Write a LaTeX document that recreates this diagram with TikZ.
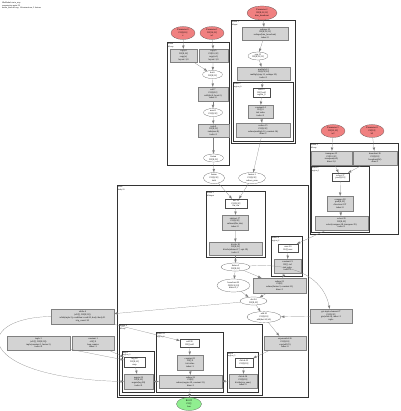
\documentclass[tikz,border=0pt]{standalone}
\usepackage{fontspec}
\setmainfont{Liberation Serif}
\usetikzlibrary{shapes.geometric}
\definecolor{paramred}{RGB}{240,128,128}
\definecolor{rootgreen}{RGB}{144,238,144}
\definecolor{opgray}{RGB}{211,211,211}
\tikzset{>=latex}
\tikzset{
  tiny/.style = {font=\fontsize{2.3}{2.8}\selectfont, align=center, inner sep=0pt},
  param/.style = {tiny, ellipse, draw=black!70, line width=0.2pt, fill=paramred},
  root/.style = {tiny, ellipse, draw=black!70, line width=0.2pt, fill=rootgreen},
  op/.style = {tiny, rectangle, draw=gray, line width=0.2pt, fill=opgray},
  val/.style = {tiny, ellipse, draw=black!70, line width=0.2pt, fill=white},
  tup/.style = {tiny, rectangle, draw=black!70, line width=0.2pt, fill=white},
  cluster/.style = {draw=black!80, line width=0.8pt},
  clabel/.style = {font=\fontsize{2.1}{2.6}\selectfont, align=left, inner sep=0.8pt, anchor=north west},
  edge/.style = {->, draw=black!50, line width=0.2pt}
}

\begin{document}
\begin{tikzpicture}[x=1pt,y=-1pt]
  \fill[white] (0,0) rectangle (400,411);
  \useasboundingbox (0,0) rectangle (400,411);
  \node[clabel] (title) at (1,1) {HloModule train\_step\\computation main.58\\fusion\_kind=kLoop, 14 instructions, 3 fusions};

  \draw[cluster] (167,42) rectangle (229,165);
  \node[clabel] (lab1) at (167,42) {fusion\\kLoop};
  \draw[cluster] (231,20) rectangle (295,143);
  \node[clabel] (lab2) at (231,20) {fusion.1\\kInput};
  \draw[cluster] (233,82) rectangle (293,141);
  \node[clabel] (lab3) at (233,82) {reduce.7\\region\_0};
  \draw[cluster] (310,143) rectangle (398,234);
  \node[clabel] (lab4) at (310,143) {fusion.2\\kLoop};
  \draw[cluster] (311,166) rectangle (369,232);
  \node[clabel] (lab5) at (311,166) {select.3\\region\_1};
  \draw[cluster] (117,185) rectangle (308,397);
  \node[clabel] (lab6) at (117,185) {while\\body.21};
  \draw[cluster] (206,191) rectangle (265,257);
  \node[clabel] (lab7) at (206,191) {fusion.3\\kOutput};
  \draw[cluster] (271,236) rectangle (302,276);
  \node[clabel] (lab8) at (271,236) {reduce.9\\region\_2};
  \draw[cluster] (119,324) rectangle (262,395);
  \node[clabel] (lab9) at (119,324) {fusion.4\\kLoop};
  \draw[cluster] (122,351) rectangle (154,392);
  \node[clabel] (lab10) at (122,351) {map.5\\region\_3};
  \draw[cluster] (156,332) rectangle (223,392);
  \node[clabel] (lab11) at (156,332) {reduce.11\\region\_4};
  \draw[cluster] (227,352) rectangle (258,392);
  \node[clabel] (lab12) at (227,352) {map.6\\region\_5};

  \node[param, minimum width=24pt, minimum height=13pt] (p1) at (183,33) {Parameter 0\\f32[8,16]\\x};
  \node[param, minimum width=24pt, minimum height=13pt] (p2) at (212,33) {Parameter 1\\f32[16,32]\\w1};
  \node[param, minimum width=30pt, minimum height=14pt] (p3) at (262,13) {Parameter 2\\f32[8,32,32]\\bias\_broadcast};
  \node[param, minimum width=24pt, minimum height=13pt] (p4) at (333,131) {Parameter 3\\f32[32,10]\\w2};
  \node[param, minimum width=24pt, minimum height=13pt] (p5) at (372,131) {Parameter 4\\f32[10]\\b2};

  \node[op, minimum width=27pt, minimum height=13pt] (a1) at (183.5,55.5) {copy.4\\f32[8,16]\\copy(x)\\layout=1,0};
  \node[op, minimum width=29pt, minimum height=13pt] (a2) at (213.5,55.5) {copy.5\\f32[16,32]\\copy(w1)\\layout=1,0};
  \node[val, minimum width=20pt, minimum height=8pt] (e1) at (212.5,74.5) {dot.6\\f32[8,32]};
  \node[op, minimum width=30pt, minimum height=14pt] (a3) at (213,94) {add.7\\f32[8,32]\\add(dot.6, bcast.2)\\index=0};
  \node[val, minimum width=19pt, minimum height=8pt] (e2) at (213,112.5) {max.8\\f32[8,32]};
  \node[op, minimum width=31pt, minimum height=13pt] (a4) at (213.5,130.5) {tanh.9\\f32[8,32]\\tanh(max.8)\\index=1};
  \node[val, minimum width=20pt, minimum height=8pt] (e3) at (213.5,158) {fusion\\f32[8,32]};

  \node[op, minimum width=46pt, minimum height=13pt] (b1) at (265,33.5) {reshape.10\\f32[8,32,32]\\reshape(bias\_broadcast)\\index=0};
  \node[val, minimum width=20pt, minimum height=8pt] (f1) at (258,56) {exp.11\\f32[8,32,32]};
  \node[op, minimum width=53pt, minimum height=13pt] (b2) at (263.5,73.5) {multiply.12\\f32[8,32,32]\\multiply(exp.11, reshape.10)\\index=1};
  \node[tup, minimum width=17pt, minimum height=9pt] (w1) at (261.5,92.5) {add.13\\f32[] add\\region\_0};
  \node[op, minimum width=25pt, minimum height=13pt] (b3) at (260.5,111.5) {constant.14\\f32[] 0\\init value\\index=2};
  \node[op, minimum width=54pt, minimum height=14pt] (b4) at (263,130) {reduce.15\\f32[8,32]\\reduce(multiply.12, constant.14)\\dims=2};

  \node[val, minimum width=21pt, minimum height=11pt] (m1) at (214,178) {fusion\\f32[8,32]\\tanh};
  \node[val, minimum width=27pt, minimum height=11pt] (m2) at (252,178) {fusion.1\\f32[8,32]\\reduce\_sum};

  \node[tup, minimum width=22pt, minimum height=9pt] (w2) at (236,203.5) {dot.16\\f32[8,32]\\lhs, rhs};
  \node[op, minimum width=26pt, minimum height=15pt] (c1) at (235,222.5) {subtract.17\\f32[8,32]\\subtract(lhs, rhs)\\index=0};
  \node[op, minimum width=53pt, minimum height=13pt] (c2) at (235.5,248.5) {divide.18\\f32[8,32]\\divide(subtract.17, sqrt.19)\\index=1};
  \node[tup, minimum width=20pt, minimum height=8pt] (w3) at (288,248) {max.20\\f32[] max};
  \node[op, minimum width=27pt, minimum height=14pt] (c3) at (287.5,266) {constant.21\\f32[] -inf\\init value\\index=3};

  \node[val, minimum width=29pt, minimum height=8pt] (e4) at (235.5,267) {fusion.3\\f32[8,32]};
  \node[val, minimum width=33pt, minimum height=13pt] (e5) at (233.5,285.5) {broadcast.22\\f32[8,32,10]\\dims=0,1};
  \node[op, minimum width=53pt, minimum height=15pt] (c4) at (279.5,285.5) {reduce.23\\f32[8]\\reduce(fusion.3, constant.21)\\dims=1};
  \node[val, minimum width=27pt, minimum height=8pt] (e6) at (253.5,301) {dot.24\\f32[8,10]};
  \node[val, minimum width=34pt, minimum height=10pt] (e7) at (264,317) {add.25\\f32[8,10]\\add(dot.24, b2)};
  \node[op, minimum width=42pt, minimum height=14pt] (c5) at (285,343) {exponential.26\\f32[8,10]\\exp(add.25)\\index=0};
  \node[op, minimum width=42pt, minimum height=14pt] (r1) at (331,316) {get-tuple-element.27\\f32[8,32]\\gte(while.4), index=1\\tuple};

  \node[op, minimum width=63pt, minimum height=15pt] (l1) at (82.5,316.5) {while.4\\(s32[], f32[8,32])\\while(tuple.3), condition=cond.20, body=body.21\\trip\_count=10};
  \node[op, minimum width=63pt, minimum height=14pt] (l2) at (38.5,343) {tuple.3\\(s32[], f32[8,32])\\tuple(constant.1, fusion.3)\\index=0};
  \node[op, minimum width=42pt, minimum height=14pt] (l3) at (93,343) {constant.1\\s32[] 0\\loop counter\\index=1};

  \node[tup, minimum width=21pt, minimum height=10pt] (w4) at (134.5,362) {log.28\\f32[8,10]\\map};
  \node[op, minimum width=29pt, minimum height=15pt] (d1) at (138.5,381.5) {negate.29\\f32[8,10]\\negate(log.28)\\index=0};
  \node[tup, minimum width=19pt, minimum height=8pt] (w5) at (189.5,343) {add.30\\f32[] add};
  \node[op, minimum width=26pt, minimum height=15pt] (d2) at (190,362.5) {constant.31\\f32[] 0\\init value\\index=1};
  \node[op, minimum width=63pt, minimum height=13pt] (d3) at (190.5,381.5) {reduce.32\\f32[8]\\reduce(negate.29, constant.31)\\dims=1};
  \node[tup, minimum width=18pt, minimum height=9pt] (w6) at (244,362.5) {divide.33\\f32[8,10]};
  \node[op, minimum width=28pt, minimum height=14pt] (d4) at (243,381) {divide.34\\f32[8,10]\\divide(exp, sum)\\index=2};

  \node[op, minimum width=41pt, minimum height=14pt] (r2) at (331.5,158) {transpose.35\\f32[10,32]\\transpose(w2)\\dims=1,0};
  \node[op, minimum width=44pt, minimum height=14pt] (r3) at (375,158) {broadcast.36\\f32[8,10]\\broadcast(b2)\\dims=1};
  \node[tup, minimum width=17pt, minimum height=8pt] (w7) at (340.5,177) {select.37\\pred[8,10]};
  \node[op, minimum width=26pt, minimum height=15pt] (r4) at (340,203.5) {compare.38\\pred[8,10]\\direction=GT\\index=0};
  \node[op, minimum width=53pt, minimum height=14pt] (r5) at (341.5,223) {select.39\\f32[8,10]\\select(compare.38, transpose.35)\\index=1};

  \node[root, minimum width=25pt, minimum height=13pt] (root) at (189,404) {ROOT\\f32[]\\loss};

  \draw[edge] (p1) -- (a1);
  \draw[edge] (p2) -- (a2);
  \draw[edge] (a1) -- (e1);
  \draw[edge] (a2) -- (e1);
  \draw[edge] (e1) -- (a3);
  \draw[edge] (a3) -- (e2);
  \draw[edge] (e2) -- (a4);
  \draw[edge] (a4) -- (e3);
  \draw[edge] (e3) -- (m1);
  \draw[edge] (p3) -- (b1);
  \draw[edge] (b1) -- (f1);
  \draw[edge] (f1) -- (b2);
  \draw[edge] (b2) -- (w1);
  \draw[edge] (w1) -- (b3);
  \draw[edge] (b3) -- (b4);
  \draw[edge] (b4) -- (m2);
  \draw[edge] (m1) -- (w2);
  \draw[edge] (m2) -- (w2);
  \draw[edge] (w2) -- (c1);
  \draw[edge] (c1) -- (c2);
  \draw[edge] (c2) -- (e4);
  \draw[edge] (p4) -- (r2);
  \draw[edge] (p5) -- (r3);
  \draw[edge] (r2) -- (w7);
  \draw[edge] (r3) -- (w7);
  \draw[edge] (w7) -- (r4);
  \draw[edge] (r4) -- (r5);
  \draw[edge] (r5) -- (w3);
  \draw[edge] (w3) -- (c3);
  \draw[edge] (c3) -- (c4);
  \draw[edge] (e4) -- (e5);
  \draw[edge] (e4) -- (c4);
  \draw[edge] (e4) .. controls (305,262) and (325,285) .. (r1);
  \draw[edge] (e5) -- (e6);
  \draw[edge] (c4) -- (e6);
  \draw[edge] (e6) -- (e7);
  \draw[edge] (r1) -- (e7);
  \draw[edge] (e6) -- (l1);
  \draw[edge] (e7) -- (c5);
  \draw[edge] (c5) -- (w6);
  \draw[edge] (w6) -- (d4);
  \draw[edge] (l1) -- (w5);
  \draw[edge] (w5) -- (d2);
  \draw[edge] (d2) -- (d3);
  \draw[edge] (l2) -- (w4);
  \draw[edge] (l3) -- (w4);
  \draw[edge] (w4) -- (d1);
  \draw[edge] (l1.west) .. controls (-30,318) and (-25,378) .. (d1.west);
  \draw[edge] (d1) -- (d3);
  \draw[edge] (d4) -- (d3);
  \draw[edge] (d3) -- (root);
\end{tikzpicture}
\end{document}
